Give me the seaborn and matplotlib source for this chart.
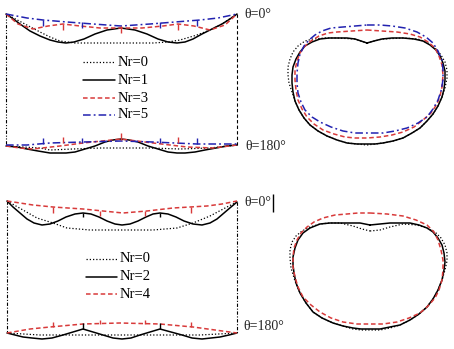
import matplotlib
matplotlib.use("Agg")
import matplotlib.pyplot as plt
import seaborn as sns

# ---------------- data (figure coordinates) ----------------
# upper strip, top edge (theta = 0)
s1_top_x = [6, 12, 20, 30, 40, 50, 58, 66, 74, 84, 95, 107, 121, 135, 147, 158, 168, 177, 185, 193, 202, 212, 222, 230, 237]
s1_top_y = [14, 18, 24, 31, 36, 40, 42, 43, 42, 39, 34, 30, 28, 30, 34, 39, 42, 43, 42, 39, 34, 29, 24, 19, 14]
r3_top_x = [6, 18, 33, 48, 63, 80, 100, 121, 142, 163, 178, 194, 210, 225, 237]
r3_top_y = [14, 24, 29, 26, 24, 26, 28, 28, 28, 26, 24, 26, 30, 25, 14]
b5_top_x = [6, 27, 43, 67, 93, 121, 150, 175, 200, 218, 237]
b5_top_y = [14, 18, 20, 22, 24, 26, 24, 22, 20, 18, 14]
d0_top_x = [6, 23, 40, 50, 60, 75, 87, 100, 121, 140, 153, 168, 180, 197, 210, 222, 237]
d0_top_y = [14, 23, 32, 37, 41, 43, 43, 43, 43, 43, 43, 42, 40, 35, 30, 24, 14]
# upper strip, bottom edge (theta = 180)
s1_bot_x = [6, 17, 27, 38, 50, 58, 66, 75, 85, 95, 105, 113, 121, 129, 138, 148, 158, 168, 177, 185, 195, 205, 216, 227, 237]
s1_bot_y = [146, 147, 149, 151, 153, 153, 153, 152, 149, 146, 142, 140, 139, 140, 142, 146, 149, 152, 153, 153, 152, 150, 148, 146, 145]
r3_bot_x = [6, 20, 33, 60, 83, 121, 153, 187, 213, 237]
r3_bot_y = [146, 148, 149, 146, 143, 139, 143, 147, 148, 145]
b5_bot_x = [6, 27, 50, 83, 121, 153, 197, 237]
b5_bot_y = [145, 145, 143, 142, 141, 142, 144, 144]
d0_bot_x = [6, 40, 50, 73, 100, 121, 150, 180, 210, 237]
d0_bot_y = [146, 148, 150, 149, 148, 148, 148, 149, 148, 145]
# upper strip tick marks
t1_top_x = [43, 63, 82, 121, 160, 178, 197]
t1_top_y0 = [20, 24, 22, 26, 22, 24, 20]
t1_top_y1 = [26, 30, 28, 33, 28, 30, 26]
t1_bot_x = [43, 63, 82, 121, 160, 178, 197]
t1_bot_y0 = [138, 137, 138, 133, 138, 137, 138]
t1_bot_y1 = [144, 143, 143, 140, 143, 143, 144]
t1_cols = ["b", "r", "b", "r", "b", "r", "b"]

# lower strip, top edge
s2_top_x = [7, 13, 20, 27, 34, 42, 50, 58, 66, 75, 83, 91, 99, 107, 115, 122, 130, 138, 146, 153, 160, 168, 176, 184, 193, 202, 210, 217, 224, 231, 237]
s2_top_y = [201, 207, 213, 219, 223, 225, 224, 221, 217, 214, 213, 214, 217, 221, 224, 225, 224, 221, 217, 214, 213, 214, 217, 221, 224, 225, 223, 219, 213, 207, 202]
r4_top_x = [7, 33, 53, 83, 123, 147, 173, 207, 222, 237]
r4_top_y = [201, 205, 207, 209, 213, 211, 208, 206, 204, 201]
d02_top_x = [7, 23, 37, 53, 67, 90, 123, 153, 177, 193, 210, 227, 237]
d02_top_y = [201, 210, 218, 223, 228, 230, 230, 230, 228, 223, 216, 207, 202]
# lower strip, bottom edge
s2_bot_x = [7, 15, 23, 32, 42, 52, 63, 73, 83, 93, 103, 113, 122, 131, 140, 150, 160, 171, 182, 192, 202, 211, 220, 229, 237]
s2_bot_y = [333, 335, 337, 338, 339, 338, 335, 332, 329, 332, 335, 338, 339, 338, 335, 332, 329, 332, 335, 338, 339, 338, 337, 335, 333]
r4_bot_x = [7, 30, 50, 83, 120, 160, 193, 215, 237]
r4_bot_y = [333, 329, 327, 324, 323, 324, 327, 330, 333]
d02_bot_x = [7, 40, 80, 120, 160, 200, 237]
d02_bot_y = [333, 335, 335, 335, 335, 335, 333]
t2_top_x = [53, 83, 100, 145, 160, 191]
t2_top_y0 = [207, 213, 211, 211, 213, 207]
t2_top_y1 = [213, 217, 216, 216, 217, 213]
t2_bot_x = [53, 83, 100, 145, 160, 191]
t2_bot_y0 = [322, 323, 320, 320, 323, 322]
t2_bot_y1 = [327, 329, 324, 324, 329, 327]
t2_cols = ["r", "k", "r", "r", "k", "r"]

# cross sections, upper
s1_ring_x = [367, 374, 382, 392, 403, 414, 423, 430, 436, 440, 443, 445, 445, 444, 442, 438, 433, 427, 420, 412, 403, 393, 383, 375, 367, 357, 347, 337, 327, 318, 310, 304, 299, 295, 293, 292, 292, 293, 296, 300, 305, 312, 320, 329, 337, 347, 355, 361, 367]
s1_ring_y = [43, 41, 39, 38, 38, 39, 41, 45, 50, 56, 63, 71, 80, 89, 97, 106, 114, 121, 128, 133, 138, 141, 143, 144, 144, 144, 143, 140, 136, 131, 125, 118, 110, 101, 92, 83, 75, 67, 59, 52, 46, 42, 39, 38, 38, 38, 39, 41, 43]
r3_ring_x = [367, 382, 397, 410, 420, 428, 435, 439, 442, 443, 442, 440, 437, 431, 423, 414, 403, 392, 380, 367, 355, 345, 334, 323, 314, 307, 302, 298, 296, 295, 295, 297, 300, 305, 311, 319, 328, 337, 352, 367]
r3_ring_y = [30, 31, 32, 34, 37, 42, 48, 56, 65, 75, 87, 96, 104, 113, 120, 127, 132, 135, 137, 138, 138, 137, 134, 130, 124, 117, 109, 100, 90, 80, 70, 61, 53, 46, 41, 36, 33, 32, 31, 30]
b5_ring_x = [367, 380, 392, 405, 417, 426, 433, 438, 442, 443, 443, 441, 438, 433, 427, 418, 407, 395, 383, 367, 355, 343, 331, 320, 312, 305, 301, 298, 297, 297, 298, 300, 304, 309, 315, 322, 331, 343, 355, 367]
b5_ring_y = [25, 25, 26, 28, 32, 37, 43, 51, 60, 70, 80, 91, 100, 109, 117, 123, 128, 131, 133, 133, 133, 131, 127, 122, 117, 110, 102, 93, 83, 73, 63, 54, 46, 40, 35, 31, 28, 27, 26, 25]
d0_ring_x = [367, 382, 403, 418, 428, 435, 441, 445, 447, 447, 445, 442, 438, 433, 427, 420, 412, 403, 393, 383, 367, 357, 347, 337, 327, 318, 310, 304, 299, 295, 292, 289, 288, 288, 290, 293, 298, 305, 313, 325, 337, 355, 367]
d0_ring_y = [43, 39, 38, 39, 43, 48, 55, 62, 70, 78, 88, 97, 106, 114, 121, 128, 133, 138, 141, 143, 145, 144, 143, 140, 136, 131, 125, 118, 110, 101, 92, 83, 75, 67, 59, 52, 46, 41, 39, 38, 38, 39, 43]
# cross sections, lower
s2_ring_x = [370, 380, 390, 400, 410, 419, 427, 433, 438, 442, 444, 445, 444, 442, 438, 433, 427, 419, 410, 400, 390, 380, 370, 361, 353, 343, 333, 322, 313, 306, 300, 296, 294, 293, 293, 295, 298, 303, 310, 320, 330, 340, 350, 360, 370]
s2_ring_y = [225, 224, 223, 223, 223, 225, 228, 232, 238, 245, 253, 262, 270, 280, 290, 299, 307, 314, 320, 325, 327, 329, 329, 329, 328, 326, 323, 318, 312, 303, 293, 283, 273, 265, 257, 248, 240, 233, 228, 224, 223, 223, 223, 223, 225]
r4_ring_x = [370, 387, 403, 416, 427, 434, 438, 441, 443, 443, 442, 439, 435, 428, 420, 409, 397, 383, 370, 357, 343, 331, 320, 311, 303, 298, 295, 293, 293, 294, 297, 301, 307, 314, 323, 335, 347, 358, 370]
r4_ring_y = [213, 214, 216, 220, 225, 232, 240, 250, 260, 270, 280, 290, 298, 306, 313, 318, 322, 324, 324, 324, 322, 318, 312, 305, 297, 287, 277, 267, 257, 248, 240, 233, 227, 222, 218, 215, 214, 213, 213]
d02_ring_x = [370, 380, 390, 403, 417, 427, 435, 441, 445, 447, 447, 445, 442, 438, 433, 427, 419, 410, 400, 390, 380, 370, 361, 353, 343, 333, 322, 313, 306, 300, 295, 291, 290, 290, 292, 296, 302, 310, 320, 330, 340, 353, 362, 370]
d02_ring_y = [231, 230, 227, 224, 225, 228, 232, 238, 245, 253, 261, 270, 280, 290, 299, 307, 314, 320, 325, 328, 330, 330, 330, 329, 326, 323, 318, 312, 303, 293, 281, 268, 258, 250, 242, 236, 231, 227, 224, 223, 223, 226, 229, 231]

legend1_labels = ["Nr=0", "Nr=1", "Nr=3", "Nr=5"]
legend1_y = [62, 80, 98, 115]
legend2_labels = ["Nr=0", "Nr=2", "Nr=4"]
legend2_y = [259, 277, 294]

# ---------------- styles ----------------
RED = "#d83a3a"
BLUE = "#2222b0"
STY = {
    "d": dict(color="black", linestyle=(0, (1, 1.6)), lw=0.9),
    "s": dict(color="black", linestyle="-", lw=1.1),
    "r": dict(color=RED, linestyle=(0, (3, 1.8)), lw=1.1),
    "b": dict(color=BLUE, linestyle=(0, (5, 2, 1.2, 2)), lw=1.1),
}
TCOL = {"r": RED, "b": BLUE, "k": "black"}

sns.set_theme(style="white")
plt.rcParams["font.family"] = ["Liberation Serif", "DejaVu Serif"]

fig = plt.figure(figsize=(4.54, 3.49), dpi=100)
ax = fig.add_axes([0, 0, 1, 1])
ax.set_xlim(0, 454)
ax.set_ylim(349, 0)
ax.axis("off")


def draw(x, y, key):
    sns.lineplot(x=x, y=y, sort=False, estimator=None, ax=ax, **STY[key])


# frame verticals
ax.vlines(6, 14, 146, color="black", lw=0.8, linestyles=[(0, (3, 1.5, 1, 1.5, 1, 1.5))])
ax.vlines(237, 14, 145, color="black", lw=0.8, linestyles=[(0, (3, 2))])
ax.vlines(7, 201, 333, color="black", lw=0.8, linestyles=[(0, (3, 1.5, 1, 1.5))])
ax.vlines(237, 202, 333, color="black", lw=0.8, linestyles=[(0, (3, 1.5, 1, 1.5))])

for xs, ys, k in [
    (d0_top_x, d0_top_y, "d"), (s1_top_x, s1_top_y, "s"), (r3_top_x, r3_top_y, "r"), (b5_top_x, b5_top_y, "b"),
    (d0_bot_x, d0_bot_y, "d"), (s1_bot_x, s1_bot_y, "s"), (r3_bot_x, r3_bot_y, "r"), (b5_bot_x, b5_bot_y, "b"),
    (d02_top_x, d02_top_y, "d"), (s2_top_x, s2_top_y, "s"), (r4_top_x, r4_top_y, "r"),
    (d02_bot_x, d02_bot_y, "d"), (s2_bot_x, s2_bot_y, "s"), (r4_bot_x, r4_bot_y, "r"),
    (d0_ring_x, d0_ring_y, "d"), (s1_ring_x, s1_ring_y, "s"), (r3_ring_x, r3_ring_y, "r"), (b5_ring_x, b5_ring_y, "b"),
    (d02_ring_x, d02_ring_y, "d"), (s2_ring_x, s2_ring_y, "s"), (r4_ring_x, r4_ring_y, "r"),
]:
    draw(xs, ys, k)

# tick marks
for tx, y0, y1, cols in [
    (t1_top_x, t1_top_y0, t1_top_y1, t1_cols), (t1_bot_x, t1_bot_y0, t1_bot_y1, t1_cols),
    (t2_top_x, t2_top_y0, t2_top_y1, t2_cols), (t2_bot_x, t2_bot_y0, t2_bot_y1, t2_cols),
]:
    for x, a, b, c in zip(tx, y0, y1, cols):
        ax.vlines(x, a, b, color=TCOL[c], lw=1.0)

# legends
leg1_keys = ["d", "s", "r", "b"]
for lab, y, k in zip(legend1_labels, legend1_y, leg1_keys):
    draw([83, 115], [y, y], k)
    ax.text(118, y, lab, fontsize=10.5, va="center", ha="left", color="black")
leg2_keys = ["d", "s", "r"]
for lab, y, k in zip(legend2_labels, legend2_y, leg2_keys):
    draw([86, 117], [y, y], k)
    ax.text(120, y, lab, fontsize=10.5, va="center", ha="left", color="black")

# angle labels
ax.text(244, 14, "θ=0°", fontsize=10, va="center", ha="left")
ax.text(245, 146, "θ=180°", fontsize=10, va="center", ha="left")
ax.text(244, 202, "θ=0°", fontsize=10, va="center", ha="left")
ax.text(243, 327, "θ=180°", fontsize=10, va="center", ha="left")
ax.vlines(273, 194, 212, color="black", lw=1.0)

if ax.get_legend() is not None:
    ax.get_legend().remove()

fig.savefig("out.png", dpi=100)
